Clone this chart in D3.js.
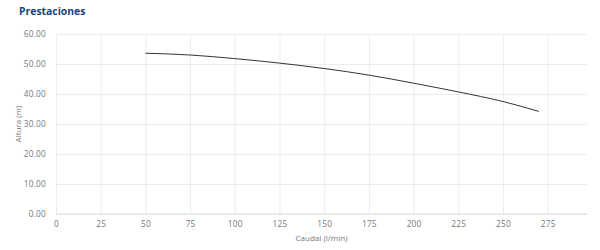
<!DOCTYPE html>
<html>
<head>
<meta charset="utf-8">
<script src="https://cdn.jsdelivr.net/npm/d3@7"></script>
<style>
  body { margin: 0; background: #fff; font-family: "Open Sans", sans-serif; }
  .title { font-size: 10.4px; font-weight: 700; fill: #1d4281; }
  .tick text { font-size: 8.3px; fill: #777; font-family: "Open Sans", sans-serif; letter-spacing: 0.2px; }
  .ax-label { font-size: 8px; fill: #777; }
</style>
</head>
<body>
<div id="chart"></div>
<script>
const caudal= [50, 75, 100, 125, 150, 175, 200, 225, 250, 270];
const altura= [53.6, 53.0, 51.8, 50.3, 48.5, 46.3, 43.6, 40.7, 37.5, 34.2];
const xTicks= [0, 25, 50, 75, 100, 125, 150, 175, 200, 225, 250, 275];
const yTicks= [0, 10, 20, 30, 40, 50, 60];

const W= 600, H= 250;
const MAR= { top: 34, right: 13, bottom: 36, left: 56 };
const iW= W-MAR.left-MAR.right;
const iH= H-MAR.top-MAR.bottom;

const svg= d3.select('#chart').append('svg')
  .attr('width', W).attr('height', H);

svg.append('text')
  .attr('x', 19).attr('y', 15)
  .attr('class', 'title')
  .text('Prestaciones');

const g= svg.append('g').attr('transform', `translate(${MAR.left},${MAR.top})`);

const xSc= d3.scaleLinear().domain([0, 297]).range([0, iW]);
const ySc= d3.scaleLinear().domain([0, 60]).range([iH, 0]);

// grid
g.append('g')
  .call(d3.axisBottom(xSc).tickValues(xTicks).tickSize(iH).tickFormat(''))
  .call(a => a.select('.domain').remove())
  .selectAll('line').attr('stroke', '#ececec');
g.append('g')
  .call(d3.axisLeft(ySc).tickValues(yTicks).tickSize(-iW).tickFormat(''))
  .call(a => a.select('.domain').remove())
  .selectAll('line').attr('stroke', '#ececec');

g.append('line')
  .attr('x1', 0).attr('x2', iW).attr('y1', iH).attr('y2', iH)
  .attr('stroke', '#dcdcdc');

// axes labels
g.append('g')
  .attr('transform', `translate(0,${iH})`)
  .call(d3.axisBottom(xSc).tickValues(xTicks).tickSize(0).tickPadding(7).tickFormat(d3.format('d')))
  .call(a => a.select('.domain').remove());
g.append('g')
  .call(d3.axisLeft(ySc).tickValues(yTicks).tickSize(0).tickPadding(10).tickFormat(d3.format('.2f')))
  .call(a => a.select('.domain').remove());

g.append('text')
  .attr('class', 'ax-label')
  .attr('x', iW/2).attr('y', iH+27)
  .attr('text-anchor', 'middle')
  .text('Caudal (l/min)');

g.append('text')
  .attr('class', 'ax-label')
  .attr('transform', 'rotate(-90)')
  .attr('x', -iH/2).attr('y', -35)
  .attr('text-anchor', 'middle')
  .text('Altura (m)');

const pts= caudal.map((c, i) => ({ x: c, y: altura[i] }));
const line= d3.line()
  .x(d => xSc(d.x))
  .y(d => ySc(d.y))
  .curve(d3.curveMonotoneX);

g.append('path')
  .attr('d', line(pts))
  .attr('fill', 'none')
  .attr('stroke', '#333')
  .attr('stroke-width', 1);
</script>
</body>
</html>
